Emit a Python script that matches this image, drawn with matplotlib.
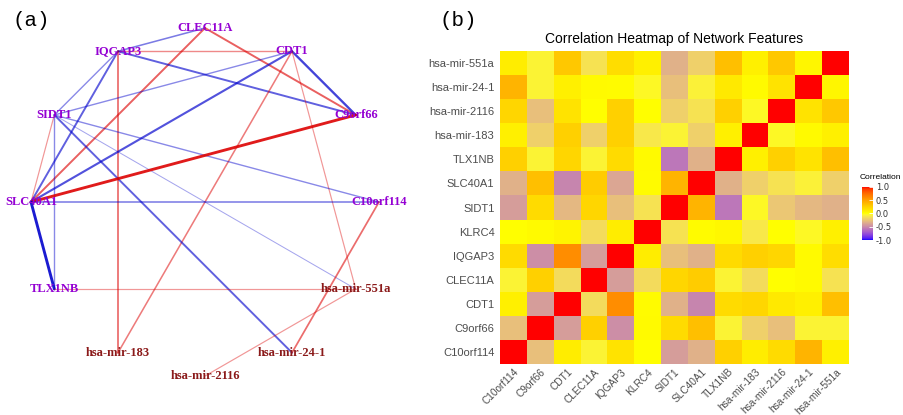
import numpy as np
import matplotlib
matplotlib.use("Agg")
import matplotlib.pyplot as plt
from matplotlib.colors import ListedColormap

# ---- data -------------------------------------------------------------
features = ["C10orf114", "C9orf66", "CDT1", "CLEC11A", "IQGAP3", "KLRC4", "SIDT1",
            "SLC40A1", "TLX1NB", "hsa-mir-183", "hsa-mir-2116", "hsa-mir-24-1",
            "hsa-mir-551a"]

# rows bottom -> top, columns left -> right (same order as features)
corr = [
    [1.00, -0.27, 0.10, -0.05, 0.15, 0.00, -0.42, -0.33, 0.25, 0.10, 0.20, 0.40, 0.08],
    [-0.27, 1.00, -0.42, 0.25, -0.48, 0.03, 0.20, 0.35, -0.05, -0.20, -0.27, -0.05, -0.05],
    [0.08, -0.42, 1.00, -0.15, 0.60, 0.02, -0.33, -0.52, 0.20, 0.22, 0.12, 0.08, 0.35],
    [-0.05, 0.25, -0.15, 1.00, -0.42, -0.15, 0.22, 0.28, -0.05, -0.15, 0.00, 0.03, -0.12],
    [0.20, -0.48, 0.60, -0.42, 1.00, 0.10, -0.27, -0.33, 0.20, 0.25, 0.22, 0.03, 0.18],
    [0.00, 0.03, 0.06, -0.15, 0.10, 1.00, -0.12, 0.02, 0.04, -0.10, 0.00, -0.03, 0.08],
    [-0.42, 0.20, -0.30, 0.22, -0.27, -0.12, 1.00, 0.40, -0.58, -0.03, -0.24, -0.30, -0.33],
    [-0.33, 0.35, -0.52, 0.28, -0.38, 0.02, 0.40, 1.00, -0.33, -0.20, -0.12, -0.06, -0.20],
    [0.25, -0.05, 0.22, -0.05, 0.20, 0.03, -0.58, -0.33, 1.00, 0.08, 0.25, 0.15, 0.35],
    [0.08, -0.20, 0.25, -0.20, 0.25, -0.10, -0.05, -0.20, 0.08, 1.00, -0.03, 0.03, 0.08],
    [0.22, -0.27, 0.15, 0.00, 0.25, 0.00, -0.20, -0.12, 0.25, -0.03, 1.00, 0.15, 0.30],
    [0.40, -0.05, 0.08, 0.03, 0.02, -0.03, -0.27, -0.06, 0.12, 0.03, 0.15, 1.00, 0.05],
    [0.10, -0.05, 0.30, -0.12, 0.18, 0.08, -0.33, -0.20, 0.35, 0.08, 0.30, 0.05, 1.00],
]

# network nodes in circle order (starting at 3 o'clock, counter-clockwise)
nodes = ["C10orf114", "C9orf66", "CDT1", "CLEC11A", "IQGAP3", "SIDT1", "SLC40A1",
         "TLX1NB", "hsa-mir-183", "hsa-mir-2116", "hsa-mir-24-1", "hsa-mir-551a"]

edge_src = ["CLEC11A", "CLEC11A", "CLEC11A", "IQGAP3", "IQGAP3", "IQGAP3", "IQGAP3",
            "IQGAP3", "CDT1", "CDT1", "CDT1", "CDT1", "CDT1", "SIDT1", "SIDT1",
            "SIDT1", "SIDT1", "SIDT1", "SLC40A1", "SLC40A1", "SLC40A1", "TLX1NB",
            "C10orf114", "hsa-mir-551a"]
edge_dst = ["IQGAP3", "SLC40A1", "C9orf66", "CDT1", "C9orf66", "SIDT1", "SLC40A1",
            "hsa-mir-183", "SIDT1", "SLC40A1", "C9orf66", "hsa-mir-183", "hsa-mir-551a",
            "SLC40A1", "TLX1NB", "C10orf114", "hsa-mir-24-1", "hsa-mir-551a",
            "C9orf66", "C10orf114", "TLX1NB", "hsa-mir-551a", "hsa-mir-24-1",
            "hsa-mir-2116"]
edge_w = [-0.5, 0.6, 0.6, 0.45, -0.6, -0.45, -0.6, 0.55, -0.45, -0.65, -0.7, 0.5, 0.4,
          0.4, -0.45, -0.45, -0.6, -0.35, 0.85, -0.5, -0.85, 0.4, 0.55, 0.4]


# ---- colour scale: blue - yellow - red, interpolated in Lab like ggplot ----
def to_lab(rgb):
    c = np.asarray(rgb, float)
    c = np.where(c > 0.04045, ((c + 0.055) / 1.055) ** 2.4, c / 12.92)
    m = np.array([[0.4124, 0.3576, 0.1805], [0.2126, 0.7152, 0.0722], [0.0193, 0.1192, 0.9505]])
    xyz = m @ c / np.array([0.95047, 1.0, 1.08883])
    f = np.where(xyz > 0.008856, np.cbrt(xyz), 7.787 * xyz + 16 / 116)
    return np.array([116 * f[1] - 16, 500 * (f[0] - f[1]), 200 * (f[1] - f[2])])


def from_lab(lab):
    fy = (lab[0] + 16) / 116
    f = np.array([fy + lab[1] / 500, fy, fy - lab[2] / 200])
    xyz = np.where(f ** 3 > 0.008856, f ** 3, (f - 16 / 116) / 7.787) * np.array([0.95047, 1.0, 1.08883])
    m = np.array([[3.2406, -1.5372, -0.4986], [-0.9689, 1.8758, 0.0415], [0.0557, -0.2040, 1.0570]])
    c = m @ xyz
    c = np.where(c > 0.0031308, 1.055 * np.abs(c) ** (1 / 2.4) - 0.055, 12.92 * c)
    return np.clip(c, 0, 1)


low, mid, high = to_lab([0, 0, 1]), to_lab([1, 1, 0]), to_lab([1, 0, 0])
cols = []
for v in np.linspace(-1, 1, 256):
    if v < 0:
        cols.append(from_lab(low + (v + 1) * (mid - low)))
    else:
        cols.append(from_lab(mid + v * (high - mid)))
cmap = ListedColormap(cols)

# ---- figure -----------------------------------------------------------
fig = plt.figure(figsize=(9.04, 4.15), dpi=100)

# (a) network
ax = fig.add_axes([0, 0, 420 / 904, 1])
ax.set_xlim(-205 / 174, 215 / 174)
ax.set_ylim(-213 / 174, 202 / 174)
ax.axis("off")
ang = np.deg2rad(np.arange(len(nodes)) * 360 / len(nodes))
pos = {n: (np.cos(a), np.sin(a)) for n, a in zip(nodes, ang)}

for s, d, w in zip(edge_src, edge_dst, edge_w):
    k = (abs(w) - 0.3) / 0.6
    ax.plot([pos[s][0], pos[d][0]], [pos[s][1], pos[d][1]],
            color="#DD0000" if w > 0 else "#0000CC",
            lw=0.6 + 1.6 * k, alpha=0.3 + 0.65 * k, zorder=1, solid_capstyle="round")

for n in nodes:
    ax.text(pos[n][0], pos[n][1], n, ha="center", va="center", fontsize=9,
            fontweight="bold", family="Liberation Serif",
            color="#8B1A1A" if n.startswith("hsa") else "#9400D3", zorder=3)

fig.text(13 / 904, 1 - 20 / 415, "(a)", family="Liberation Mono", fontsize=15,
         va="center", ha="left")
fig.text(440 / 904, 1 - 20 / 415, "(b)", family="Liberation Mono", fontsize=15,
         va="center", ha="left")

# (b) heatmap
hx = fig.add_axes([500 / 904, 51 / 415, 349 / 904, 313 / 415])
im = hx.pcolormesh(np.array(corr), cmap=cmap, vmin=-1, vmax=1)
n = len(features)
hx.set_xlim(0, n)
hx.set_ylim(0, n)
hx.set_xticks(np.arange(n) + 0.5)
hx.set_yticks(np.arange(n) + 0.5)
hx.set_xticklabels(features, rotation=45, ha="right", rotation_mode="anchor",
                   fontsize=7.3, color="#4D4D4D", family="Liberation Sans")
hx.set_yticklabels(features, fontsize=8, color="#4D4D4D", family="Liberation Sans")
hx.tick_params(axis="y", length=0, pad=4)
hx.tick_params(axis="x", length=0, pad=2)
for sp in hx.spines.values():
    sp.set_visible(False)
hx.set_title("Correlation Heatmap of Network Features", fontsize=10,
             family="Liberation Sans", pad=6)

cax = fig.add_axes([862 / 904, 175 / 415, 11 / 904, 53 / 415])
cb = fig.colorbar(im, cax=cax, ticks=[-1, -0.5, 0, 0.5, 1])
cb.outline.set_visible(False)
cb.ax.set_yticklabels(["-1.0", "-0.5", "0.0", "0.5", "1.0"])
cb.ax.tick_params(labelsize=6, length=3, color="white", width=0.6, direction="in",
                  labelcolor="#333333", pad=2)
cax.text(-0.2, 1.12, "Correlation", transform=cax.transAxes, fontsize=6,
         family="Liberation Sans", va="bottom", ha="left")

fig.savefig("out.png", dpi=100)
